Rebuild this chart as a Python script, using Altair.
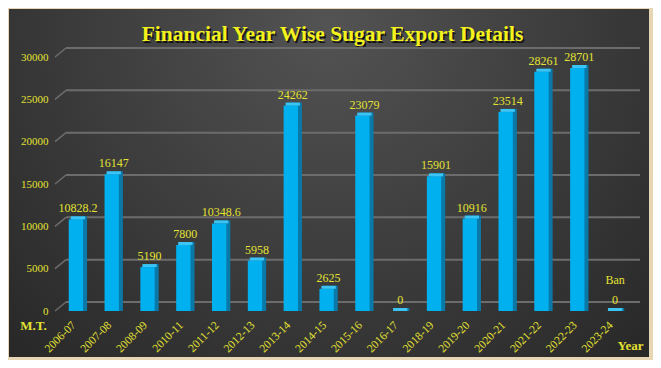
import altair as alt
import pandas as pd

years = ["2006-07", "2007-08", "2008-09", "2010-11", "2011-12", "2012-13", "2013-14",
         "2014-15", "2015-16", "2016-17", "2018-19", "2019-20", "2020-21", "2021-22",
         "2022-23", "2023-24"]
values = [10828.2, 16147, 5190, 7800, 10348.6, 5958, 24262, 2625, 23079, 0, 15901,
          10916, 23514, 28261, 28701, 0]
labels = ["10828.2", "16147", "5190", "7800", "10348.6", "5958", "24262", "2625",
          "23079", "0", "15901", "10916", "23514", "28261", "28701", "0"]
grid_values = [0, 5000, 10000, 15000, 20000, 25000, 30000]
note_year = ["2023-24"]
note_text = ["Ban"]
title_text = ["Financial Year Wise Sugar Export Details"]

W, H = 573, 254
PL, PT, PR, PB = 50, 49, 22, 49
FONT = "Liberation Serif"
YELLOW = "#e4e232"

df = pd.DataFrame({"year": years, "value": values, "label": labels})
gdf = pd.DataFrame({"v": grid_values})
ndf = pd.DataFrame({"year": note_year, "value": [0], "text": note_text})
tdf = pd.DataFrame({"t": title_text})

xs = alt.X("year:N", sort=years, scale=alt.Scale(paddingInner=0.6, paddingOuter=0.3),
           axis=alt.Axis(title="Year", labelAngle=-45, labelColor=YELLOW, labelFont=FONT,
                         labelFontSize=11.5, labelPadding=8, labelOffset=-6, ticks=False,
                         domain=False, titleColor=YELLOW, titleFont=FONT, titleFontSize=13,
                         titleFontWeight="bold", titleX=572, titleY=34,
                         titleAlign="center", titleBaseline="middle", zindex=2))
ys = alt.Y("value:Q", scale=alt.Scale(domain=[0, 30000], nice=False),
           axis=alt.Axis(title="M.T.", values=grid_values, format="d", grid=False,
                         ticks=False, domain=False, labelColor=YELLOW, labelFont=FONT,
                         labelFontSize=11, labelPadding=10, titleColor=YELLOW,
                         titleFont=FONT, titleFontSize=13, titleFontWeight="bold",
                         titleAngle=0, titleX=-25, titleY=268, titleAlign="center",
                         titleBaseline="middle", zindex=2))

bg = alt.Chart(gdf).mark_rect(
    fill=alt.RadialGradient(
        gradient="radial", x1=0.5, y1=0.25, r1=0, x2=0.5, y2=0.25, r2=0.75,
        stops=[alt.GradientStop(offset=0, color="#535353"),
               alt.GradientStop(offset=0.6, color="#383838"),
               alt.GradientStop(offset=1, color="#262626")])
).encode(x=alt.value(-PL + 1), x2=alt.value(W + PR - 4),
         y=alt.value(-PT + 1), y2=alt.value(H + PB - 3))

title_shadow = alt.Chart(tdf).mark_text(font=FONT, fontSize=21.5, fontWeight="bold",
                                        color="#111111", dx=1.5, dy=1.5).encode(
    x=alt.value(W / 2 - 12), y=alt.value(-22), text="t:N")
title = alt.Chart(tdf).mark_text(font=FONT, fontSize=21.5, fontWeight="bold",
                                 color="#f4f21c").encode(
    x=alt.value(W / 2 - 12), y=alt.value(-22), text="t:N")

grid_back = alt.Chart(gdf).mark_rule(color="#6c6c6c", strokeWidth=2, yOffset=-9).encode(
    y=alt.Y("v:Q", scale=alt.Scale(domain=[0, 30000], nice=False)),
    x=alt.value(8), x2=alt.value(W + 9))
grid_diag = alt.Chart(gdf).mark_rule(color="#6c6c6c", strokeWidth=1.5, y2Offset=-9).encode(
    y=alt.Y("v:Q", scale=alt.Scale(domain=[0, 30000], nice=False)),
    y2="v:Q", x=alt.value(-3), x2=alt.value(8))

side = alt.Chart(df).mark_bar(color="#0a79a8", xOffset=4, yOffset=-3).encode(
    x=xs, y=ys, y2=alt.datum(0))
front = alt.Chart(df).mark_bar(color="#00b0ef").encode(x=xs, y=ys, y2=alt.datum(0))
top = alt.Chart(df).mark_bar(color="#3cc4f4", xOffset=2, y2Offset=-3).encode(
    x=xs, y=ys, y2="value:Q")

txt = alt.Chart(df).mark_text(font=FONT, fontSize=12, color=YELLOW, baseline="bottom",
                              dy=-4, dx=2).encode(x=xs, y=ys, text="label:N")
note = alt.Chart(ndf).mark_text(font=FONT, fontSize=12, color=YELLOW, baseline="bottom",
                                dy=-24, dx=2).encode(x=xs, y=ys, text="text:N")

chart = alt.layer(bg, title_shadow, title, grid_back, grid_diag, side, front, top, txt,
                  note).properties(
    width=W, height=H,
    autosize=alt.AutoSizeParams(type="none"),
    padding={"left": PL, "top": PT, "right": PR, "bottom": PB},
    background="#e6d6b4",
).configure_view(stroke=None)

chart.save("out.html", embed_options={"renderer": "svg", "actions": False})
